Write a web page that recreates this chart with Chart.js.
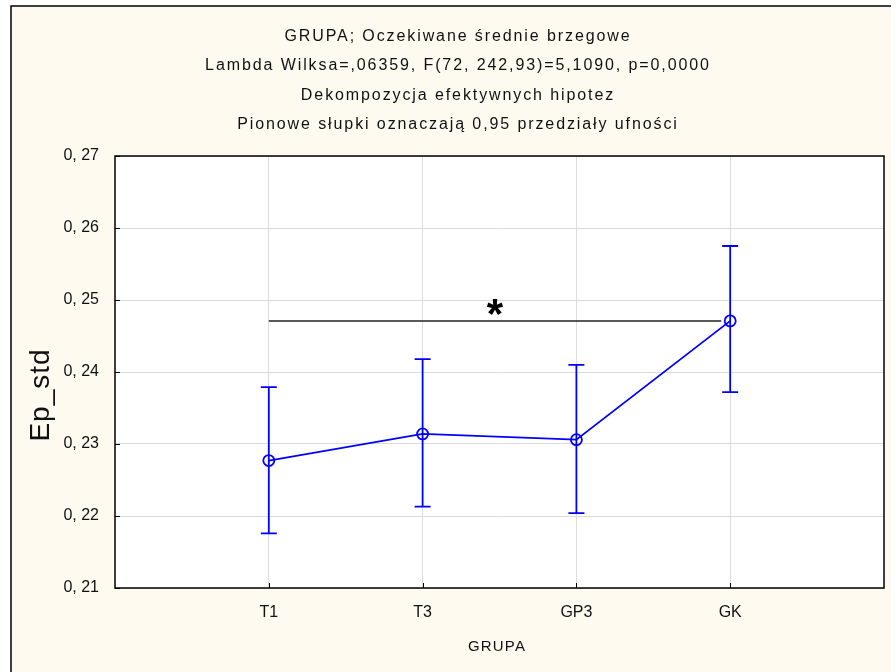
<!DOCTYPE html>
<html>
<head>
<meta charset="utf-8">
<script src="https://cdn.jsdelivr.net/npm/chart.js@4"></script>
<style>
  html, body { margin: 0; padding: 0; background: #ffffff; }
  #wrap { width: 896px; height: 672px; }
</style>
</head>
<body>
<div id="wrap"><canvas id="c" width="896" height="672"></canvas></div>
<script>
// Expected marginal means of Ep_std per group with 0.95 confidence intervals
const categories = ['T1', 'T3', 'GP3', 'GK'];
const means = [0.2277, 0.2314, 0.2306, 0.2471];
const lowerCI = [0.2176, 0.2213, 0.2204, 0.2372];
const upperCI = [0.2379, 0.2418, 0.2410, 0.2575];
const yTicks = [0.21, 0.22, 0.23, 0.24, 0.25, 0.26, 0.27];

const titleLines = [
  'GRUPA; Oczekiwane średnie brzegowe',
  'Lambda Wilksa=,06359, F(72, 242,93)=5,1090, p=0,0000',
  'Dekompozycja efektywnych hipotez',
  'Pionowe słupki oznaczają 0,95 przedziały ufności'
];
const yTitle = 'Ep_std';
const xTitle = 'GRUPA';
// significance bracket between T1 and GK, drawn at the GK mean
const sigFrom = 0, sigTo = 3, sigMark = '*';

const FONT = '"Liberation Sans", Arial, sans-serif';
const BLUE = '#0000ff';

const points = categories.map((c, i) => ({ x: i + 1, y: means[i] }));

const framePlugin = {
  id: 'frame',
  beforeDraw(chart) {
    const ctx = chart.ctx;
    const a = chart.chartArea;
    ctx.save();
    ctx.fillStyle = '#fefaf0';
    ctx.fillRect(11, 6, 880, 672);
    ctx.strokeStyle = '#000';
    ctx.lineWidth = 1.5;
    ctx.beginPath();
    ctx.moveTo(11, 672);
    ctx.lineTo(11, 6);
    ctx.lineTo(891, 6);
    ctx.stroke();
    ctx.fillStyle = '#ffffff';
    ctx.fillRect(a.left, a.top, a.right - a.left, a.bottom - a.top);
    ctx.restore();
  },
  afterDraw(chart) {
    const ctx = chart.ctx;
    const a = chart.chartArea;
    const xs = chart.scales.x, ys = chart.scales.y;
    ctx.save();
    // plot border
    ctx.strokeStyle = '#000';
    ctx.lineWidth = 1.5;
    ctx.strokeRect(a.left, a.top, a.right - a.left, a.bottom - a.top);
    // inward tick marks
    ctx.lineWidth = 1;
    ctx.beginPath();
    yTicks.forEach(v => {
      const py = Math.round(ys.getPixelForValue(v)) + 0.5;
      ctx.moveTo(a.left, py); ctx.lineTo(a.left + 5, py);
    });
    categories.forEach((c, i) => {
      const px = Math.round(xs.getPixelForValue(i + 1)) + 0.5;
      ctx.moveTo(px, a.bottom); ctx.lineTo(px, a.bottom - 5);
    });
    ctx.stroke();

    // titles
    ctx.fillStyle = '#111';
    ctx.textAlign = 'center';
    ctx.textBaseline = 'middle';
    ctx.font = '16px ' + FONT;
    ctx.letterSpacing = '1.9px';
    const ty = [37, 66, 96, 125];
    titleLines.forEach((t, i) => ctx.fillText(t, 458, ty[i]));

    ctx.font = '15px ' + FONT;
    ctx.letterSpacing = '1.2px';
    ctx.fillText(xTitle, 497, 647);

    ctx.letterSpacing = '1px';
    ctx.font = '28px ' + FONT;
    ctx.translate(41, 395);
    ctx.rotate(-Math.PI / 2);
    ctx.fillText(yTitle, 0, 0);
    ctx.restore();
  }
};

const errorBarPlugin = {
  id: 'errorBars',
  afterDatasetsDraw(chart) {
    const ctx = chart.ctx;
    const xs = chart.scales.x, ys = chart.scales.y;
    ctx.save();
    // significance bracket
    const yS = ys.getPixelForValue(means[sigTo]);
    const x1 = xs.getPixelForValue(sigFrom + 1);
    const x2 = xs.getPixelForValue(sigTo + 1) - 9;
    ctx.strokeStyle = '#222';
    ctx.lineWidth = 1.5;
    ctx.beginPath();
    ctx.moveTo(x1, yS); ctx.lineTo(x2, yS);
    ctx.stroke();
    ctx.fillStyle = '#000';
    ctx.font = 'bold 42px ' + FONT;
    ctx.textAlign = 'center';
    ctx.textBaseline = 'middle';
    ctx.fillText(sigMark, (x1 + x2) / 2, yS - 4);

    // confidence interval whiskers
    ctx.strokeStyle = BLUE;
    ctx.lineWidth = 1.8;
    categories.forEach((c, i) => {
      const px = xs.getPixelForValue(i + 1);
      const lo = ys.getPixelForValue(lowerCI[i]);
      const hi = ys.getPixelForValue(upperCI[i]);
      ctx.beginPath();
      ctx.moveTo(px, lo); ctx.lineTo(px, hi);
      ctx.moveTo(px - 8, lo); ctx.lineTo(px + 8, lo);
      ctx.moveTo(px - 8, hi); ctx.lineTo(px + 8, hi);
      ctx.stroke();
    });
    ctx.restore();
  }
};

new Chart(document.getElementById('c'), {
  type: 'scatter',
  data: {
    datasets: [{
      data: points,
      showLine: true,
      borderColor: BLUE,
      borderWidth: 1.8,
      pointRadius: 5.5,
      pointBorderWidth: 1.8,
      pointBorderColor: BLUE,
      pointBackgroundColor: 'rgba(0,0,0,0)',
      tension: 0
    }]
  },
  options: {
    responsive: false,
    animation: false,
    devicePixelRatio: 1,
    layout: { padding: { left: 11, top: 156, right: 12, bottom: 0 } },
    plugins: { legend: { display: false }, tooltip: { enabled: false }, title: { display: false } },
    scales: {
      x: {
        type: 'linear',
        min: 0,
        max: categories.length + 1,
        afterBuildTicks(scale) {
          scale.ticks = categories.map((c, i) => ({ value: i + 1 }));
        },
        afterFit(scale) { scale.height = 84; },
        ticks: {
          callback: (v) => categories[v - 1] || '',
          font: { family: FONT, size: 16 },
          color: '#111',
          padding: 15,
          maxRotation: 0,
          autoSkip: false
        },
        grid: { color: '#dcdcdc', lineWidth: 1, drawTicks: false },
        border: { display: false }
      },
      y: {
        min: yTicks[0],
        max: yTicks[yTicks.length - 1],
        afterBuildTicks(scale) {
          scale.ticks = yTicks.map(v => ({ value: v }));
        },
        afterFit(scale) { scale.width = 104; },
        ticks: {
          callback: (v) => v.toFixed(2).replace('.', ', '),
          font: { family: FONT, size: 16 },
          color: '#111',
          padding: 16
        },
        grid: { color: '#dcdcdc', lineWidth: 1, drawTicks: false },
        border: { display: false }
      }
    }
  },
  plugins: [framePlugin, errorBarPlugin]
});
</script>
</body>
</html>
